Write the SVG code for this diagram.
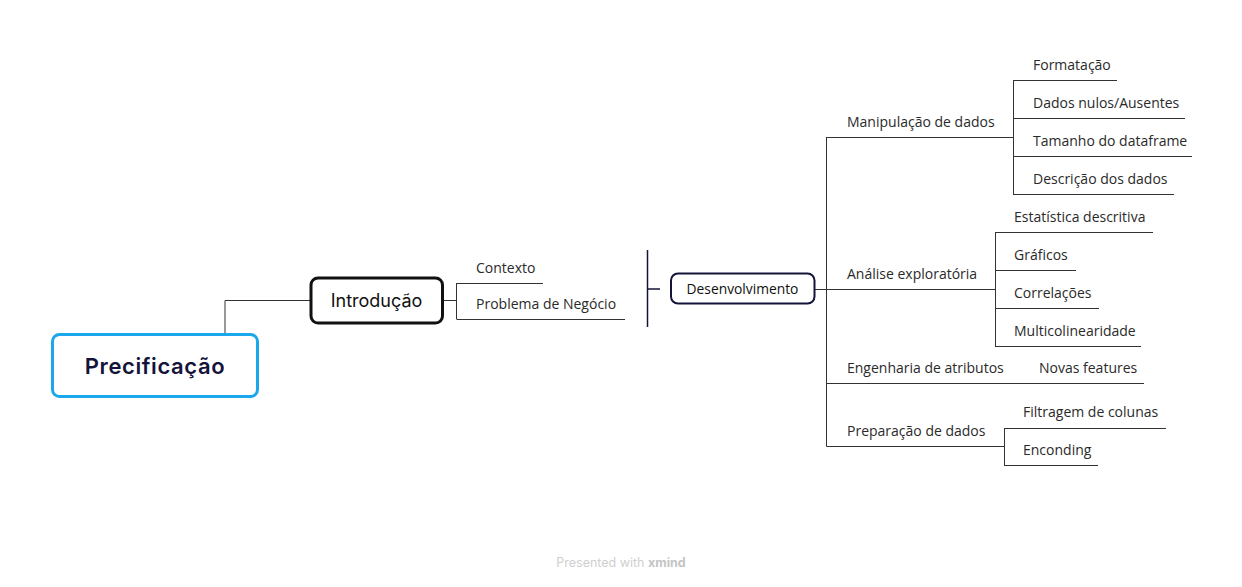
<svg xmlns="http://www.w3.org/2000/svg" width="1242" height="587" viewBox="0 0 1242 587">
<style>
.ln{fill:none;stroke:#333;stroke-width:1}
.nv{fill:none;stroke:#14143a;stroke-width:1.5}
.t{font-family:"Open Sans","Noto Sans",sans-serif;font-size:14px;fill:#2a2a2a}
.ft{font-family:"Inter","Noto Sans",sans-serif;font-size:12.5px;fill:#cfcfcf;text-anchor:middle}
</style>
<rect width="1242" height="587" fill="#fff"/>
<g id="connectors">
<path class="ln" d="M225,334 V300.5 H311"/>
<path class="ln" d="M443,300.5 H456.5 M456.5,283 V319 M456.5,283.5 H543 M456.5,319.5 H625"/>
<path class="nv" d="M647.5,250 V327 M647.5,289 H660"/>
<path class="ln" d="M815,289.5 H826.5 M826.5,137 V446.5"/>
<path class="ln" d="M826.5,137.5 H1013 M1013.5,80 V194.5 M1013,80.5 H1117 M1013,118.5 H1185 M1013,156.5 H1192 M1013,194.5 H1174"/>
<path class="ln" d="M826.5,289.5 H995 M995.5,232 V346.5 M995,232.5 H1153 M995,270.5 H1076 M995,308.5 H1099 M995,346.5 H1141"/>
<path class="ln" d="M826.5,383.5 H1144"/>
<path class="ln" d="M826.5,446.5 H1004 M1004.5,428 V465.5 M1004,428.5 H1166 M1004,465.5 H1098"/>
</g>
<g id="node-precificacao">
<rect x="52.5" y="334.5" width="205" height="62" rx="7" fill="#fff" stroke="#1aa7ec" stroke-width="3"/>
<text x="155" y="374" text-anchor="middle" font-family="Inter,'Noto Sans',sans-serif" font-size="22" font-weight="600" letter-spacing="0.6" fill="#14143a">Precificação</text>
</g>
<g id="node-introducao">
<rect x="311" y="278" width="131.5" height="45" rx="7" fill="#fff" stroke="#111" stroke-width="3"/>
<text x="376.5" y="306.5" text-anchor="middle" font-family="Inter,'Noto Sans',sans-serif" font-size="18" fill="#111">Introdução</text>
</g>
<g id="node-contexto"><text class="t" x="476" y="273">Contexto</text></g>
<g id="node-problema"><text class="t" x="476" y="309">Problema de Negócio</text></g>
<g id="node-desenvolvimento">
<rect x="671" y="273.5" width="143.5" height="30" rx="7" fill="#fff" stroke="#14143a" stroke-width="2"/>
<text x="742.5" y="293.5" text-anchor="middle" font-family="'Open Sans','Noto Sans',sans-serif" font-size="13.8" fill="#111">Desenvolvimento</text>
</g>
<g id="node-manipulacao"><text class="t" x="847" y="127">Manipulação de dados</text></g>
<g id="node-formatacao"><text class="t" x="1033" y="70">Formatação</text></g>
<g id="node-nulos"><text class="t" x="1033" y="108">Dados nulos/Ausentes</text></g>
<g id="node-tamanho"><text class="t" x="1033" y="146">Tamanho do dataframe</text></g>
<g id="node-descricao"><text class="t" x="1033" y="184">Descrição dos dados</text></g>
<g id="node-analise"><text class="t" x="847" y="279">Análise exploratória</text></g>
<g id="node-estatistica"><text class="t" x="1014" y="222">Estatística descritiva</text></g>
<g id="node-graficos"><text class="t" x="1014" y="260">Gráficos</text></g>
<g id="node-correlacoes"><text class="t" x="1014" y="298">Correlações</text></g>
<g id="node-multi"><text class="t" x="1014" y="336">Multicolinearidade</text></g>
<g id="node-engenharia"><text class="t" x="847" y="373">Engenharia de atributos</text></g>
<g id="node-novas"><text class="t" x="1039" y="373">Novas features</text></g>
<g id="node-preparacao"><text class="t" x="847" y="436">Preparação de dados</text></g>
<g id="node-filtragem"><text class="t" x="1023" y="417">Filtragem de colunas</text></g>
<g id="node-enconding"><text class="t" x="1023" y="455">Enconding</text></g>
<text class="ft" x="621" y="567">Presented with <tspan font-weight="700" fill="#c4c4c4">xmind</tspan></text>
</svg>
